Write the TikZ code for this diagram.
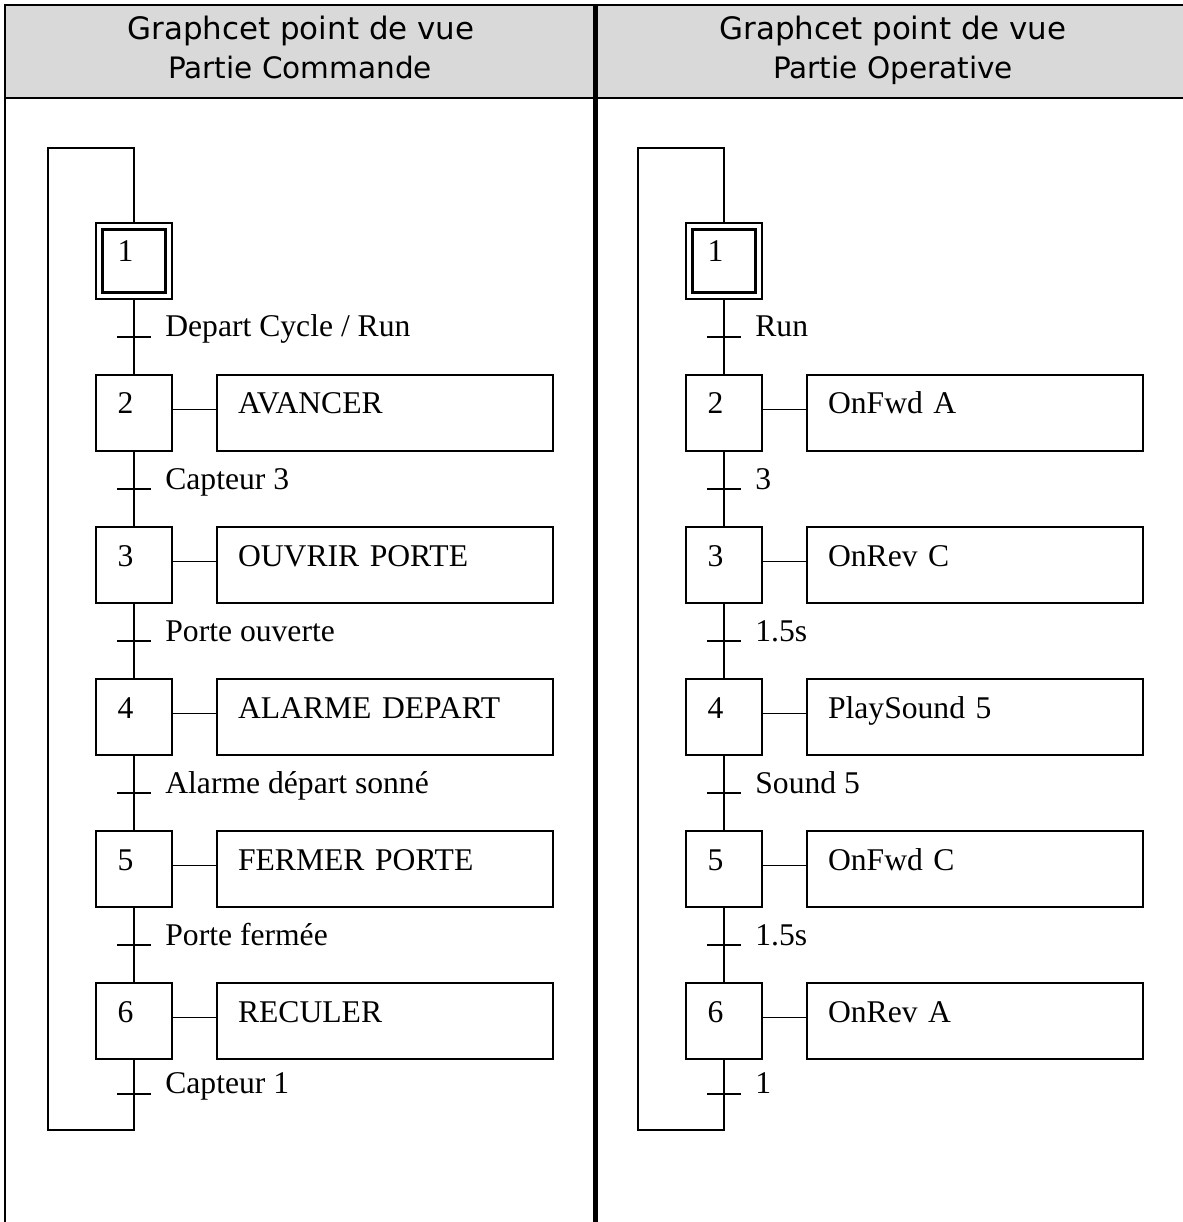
\documentclass[tikz,border=0pt]{standalone}
\usepackage{fontspec}
\setmainfont{Liberation Serif}
\newfontfamily\headfont{DejaVu Sans}
\usetikzlibrary{positioning,calc}

\begin{document}
\begin{tikzpicture}[x=0.02cm,y=-0.02cm,
  every node/.style={font=\fontsize{18}{21}\selectfont},
  head/.style={font=\headfont\fontsize{16.8}{20}\selectfont,anchor=base},
  stepbox/.style={draw,line width=0.9pt,minimum size=1.52cm,inner sep=0pt,
    text width=0.66cm,align=left,text height=0.45cm,text depth=0.41cm},
  act/.style={draw,line width=0.9pt,minimum width=6.72cm,minimum height=1.52cm,
    inner sep=0pt,text width=5.88cm,align=left,text height=0.45cm,text depth=0.41cm},
  cond/.style={anchor=base west,inner sep=0pt},
  link/.style={line width=1pt},
  tick/.style={line width=1.2pt},
  rule/.style={line width=1.6pt}
]
\useasboundingbox (0,0) rectangle (1182,1222);

% tableau
\fill[gray!30] (5,5) rectangle (1190,98);
\draw[rule] (5,1222) |- (1190,5);
\draw[rule] (5,98) -- (1190,98);
\draw[line width=2.5pt] (595.5,5) -- (595.5,1222);
\node[head,font=\headfont\fontsize{17.6}{20}\selectfont] (hc1) at (301,40) {Graphcet point de vue};
\node[head] (hc2) at (300,79) {Partie Commande};
\node[head,font=\headfont\fontsize{17.6}{20}\selectfont] (ho1) at (893,40) {Graphcet point de vue};
\node[head] (ho2) at (893,79) {Partie Operative};

% partie commande
\node[stepbox,line width=1.4pt,minimum size=1.26cm] (c1in) at (134,261) {1};
\node[draw,line width=0.7pt,minimum size=1.52cm,inner sep=0pt] (c1) at (c1in) {};
\foreach \k/\txt in {2/AVANCER,3/OUVRIR PORTE,4/ALARME DEPART,5/FERMER PORTE,6/RECULER}{
  \node[stepbox] (c\k) at (134,{261+152*(\k-1)}) {\k};
  \node[act] (ca\k) at (385,{261+152*(\k-1)}) {\txt};
  \draw[link] ([yshift=2pt]c\k.east) -- ([yshift=2pt]ca\k.west);
}
\foreach \k/\txt in {1/{Depart Cycle / Run},2/Capteur 3,3/Porte ouverte,4/Alarme départ sonné,5/Porte fermée}{
  \pgfmathtruncatemacro\n{\k+1}
  \draw[link] (c\k.south) -- coordinate[midway] (ct\k) (c\n.north);
  \draw[tick] (ct\k) ++(-17,0) -- ++(34,0);
  \node[cond] (cl\k) at ($(ct\k)+(31,0)$) {\txt};
}
\coordinate (ct6) at ($(c6.south)+(0,34)$);
\coordinate (cbl) at (48,1130);
\coordinate (ctop) at (134,148);
\draw[link] (c6.south) |- (cbl) |- (ctop) -- (c1.north);
\draw[tick] (ct6) ++(-17,0) -- ++(34,0);
\node[cond] (cl6) at ($(ct6)+(31,0)$) {Capteur 1};

% partie operative
\node[stepbox,line width=1.4pt,minimum size=1.26cm] (o1in) at (724,261) {1};
\node[draw,line width=0.7pt,minimum size=1.52cm,inner sep=0pt] (o1) at (o1in) {};
\foreach \k/\txt in {2/OnFwd A,3/OnRev C,4/PlaySound 5,5/OnFwd C,6/OnRev A}{
  \node[stepbox] (o\k) at (724,{261+152*(\k-1)}) {\k};
  \node[act] (oa\k) at (975,{261+152*(\k-1)}) {\txt};
  \draw[link] ([yshift=2pt]o\k.east) -- ([yshift=2pt]oa\k.west);
}
\foreach \k/\txt in {1/Run,2/3,3/1.5s,4/Sound 5,5/1.5s}{
  \pgfmathtruncatemacro\n{\k+1}
  \draw[link] (o\k.south) -- coordinate[midway] (ot\k) (o\n.north);
  \draw[tick] (ot\k) ++(-17,0) -- ++(34,0);
  \node[cond] (ol\k) at ($(ot\k)+(31,0)$) {\txt};
}
\coordinate (ot6) at ($(o6.south)+(0,34)$);
\coordinate (obl) at (638,1130);
\coordinate (otop) at (724,148);
\draw[link] (o6.south) |- (obl) |- (otop) -- (o1.north);
\draw[tick] (ot6) ++(-17,0) -- ++(34,0);
\node[cond] (ol6) at ($(ot6)+(31,0)$) {1};
\end{tikzpicture}
\end{document}
